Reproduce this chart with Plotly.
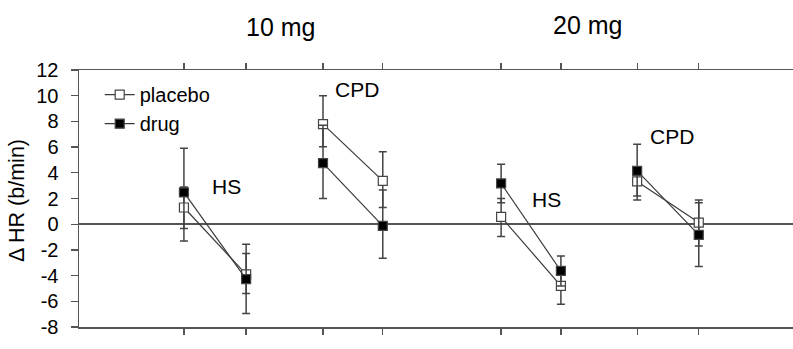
import plotly.graph_objects as go

# x positions of the eight time points (pre/post for each condition)
x_pos = [1.72, 2.74, 4.00, 4.98, 6.92, 7.90, 9.15, 10.16]
groups = ["HS 10 mg", "CPD 10 mg", "HS 20 mg", "CPD 20 mg"]

placebo_mean = [1.30, -3.90, 7.79, 3.37, 0.57, -4.80, 3.33, 0.13]
placebo_err_up = [1.60, 1.62, 2.20, 2.26, 1.43, 1.20, 1.10, 1.76]
placebo_err_dn = [1.63, 1.50, 1.77, 2.07, 1.53, 1.43, 1.13, 1.82]

drug_mean = [2.47, -4.28, 4.75, -0.13, 3.17, -3.64, 4.15, -0.83]
drug_err_up = [3.45, 2.72, 2.95, 2.80, 1.50, 1.17, 2.08, 2.50]
drug_err_dn = [3.77, 2.67, 2.75, 2.52, 1.50, 1.17, 2.26, 2.47]

y_ticks = [-8, -6, -4, -2, 0, 2, 4, 6, 8, 10, 12]
y_tick_labels = ["-8", "-6", "-4", "-2", "0", "2", "4", "6", "8", "10", "12"]

FONT = "Liberation Sans, Arial, sans-serif"


def with_gaps(vals):
    out = []
    for i, v in enumerate(vals):
        out.append(v)
        if i % 2 == 1 and i < len(vals) - 1:
            out.append(None)
    return out


fig = go.Figure()

series = [
    ("placebo", placebo_mean, placebo_err_up, placebo_err_dn, "white"),
    ("drug", drug_mean, drug_err_up, drug_err_dn, "black"),
]
for name, mean, eu, ed, fill in series:
    fig.add_trace(go.Scatter(
        x=with_gaps(x_pos), y=with_gaps(mean), name=name,
        mode="lines+markers", connectgaps=False,
        line=dict(color="#3a3a3a", width=1.2),
        marker=dict(symbol="square", size=9, color=fill,
                    line=dict(color="#444", width=1.2)),
        error_y=dict(type="data", symmetric=False,
                     array=with_gaps(eu), arrayminus=with_gaps(ed),
                     color="#444", thickness=1.5, width=4),
        cliponaxis=False,
    ))

# dose headers (above the plot area)
for t, xx, yy in [("10 mg", 3.30, 1.167), ("20 mg", 8.33, 1.175)]:
    fig.add_annotation(x=xx, y=yy, xref="x", yref="paper", text=t,
                       showarrow=False, xanchor="center", yanchor="middle",
                       font=dict(size=25, color="black", family=FONT))

# condition labels
for t, xx, yy in [("HS", 2.41, 2.94), ("CPD", 4.55, 10.47),
                  ("HS", 7.66, 1.92), ("CPD", 9.72, 6.82)]:
    fig.add_annotation(x=xx, y=yy, xref="x", yref="y", text=t,
                       showarrow=False, xanchor="center", yanchor="middle",
                       font=dict(size=21, color="black", family=FONT))

# y-axis title
fig.add_annotation(x=0, y=0.49, xref="paper", yref="paper", xshift=-62,
                   xanchor="center", yanchor="middle",
                   text="Δ HR (b/min)", textangle=-90, showarrow=False,
                   font=dict(size=21.5, color="black", family=FONT))

fig.update_layout(
    width=793, height=349,
    margin=dict(l=79, r=0, t=70, b=22, autoexpand=False),
    paper_bgcolor="white", plot_bgcolor="white",
    font=dict(family=FONT, color="black"),
    showlegend=True,
    legend=dict(x=0.029, y=0.98, xanchor="left", yanchor="top",
                font=dict(size=20, family=FONT, color="black"),
                bgcolor="rgba(0,0,0,0)", itemwidth=30, tracegroupgap=0),
    xaxis=dict(range=[0, 11.705], showgrid=False, zeroline=False,
               automargin=False,
               showline=True, linecolor="#555", linewidth=1.5,
               mirror="ticks", ticks="outside", ticklen=6, tickwidth=1.3,
               tickcolor="#555", tickvals=x_pos,
               ticktext=[""] * len(x_pos)),
    yaxis=dict(range=[-8, 12], showgrid=False, zeroline=True,
               automargin=False,
               zerolinecolor="#555", zerolinewidth=1.5,
               showline=True, linecolor="#555", linewidth=1.5,
               ticks="outside", ticklen=7, tickwidth=1.3, tickcolor="#555",
               tickvals=y_ticks, ticktext=y_tick_labels,
               tickfont=dict(size=20, family=FONT),
               ticklabelstandoff=8),
)

fig.write_html("out.html",
               config={"displayModeBar": False, "staticPlot": True},
               post_script="document.body.style.margin='0';"
                           "document.body.style.padding='0';")
